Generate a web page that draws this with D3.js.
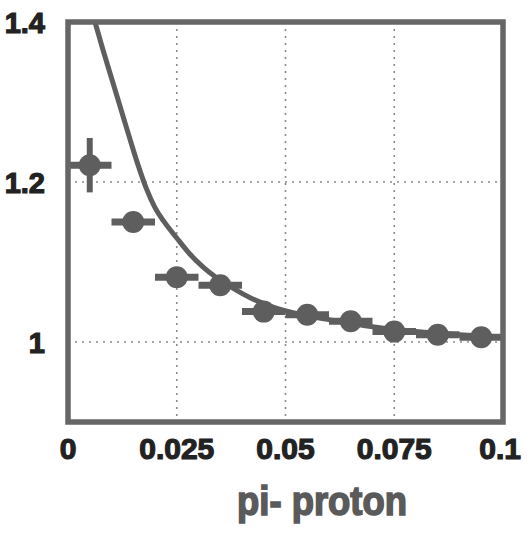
<!DOCTYPE html>
<html>
<head>
<meta charset="utf-8">
<script src="https://cdn.jsdelivr.net/npm/d3@7"></script>
<style>
  html, body { margin: 0; padding: 0; background: #fff; }
  svg { display: block; }
  .tick-label { font-family: "Liberation Sans", Arial, Helvetica, sans-serif; font-weight: bold; }
</style>
</head>
<body>
<svg id="chart" width="530" height="533"></svg>
<script>
// Measured ratio for pi- proton pairs, binned in q (GeV/c)
const binCenters = [0.005, 0.015, 0.025, 0.035, 0.045, 0.055, 0.065, 0.075, 0.085, 0.095];
const ratioValues = [1.221, 1.150, 1.081, 1.071, 1.038, 1.034, 1.026, 1.013, 1.009, 1.006];
const ratioErrors = [0.034, 0.010, 0.008, 0.008, 0.008, 0.008, 0.008, 0.012, 0.008, 0.008];
const binHalfWidth = 0.005;

// Theoretical correlation curve
const curveX = [0.0062, 0.008, 0.010, 0.012, 0.014, 0.016, 0.018, 0.020, 0.022, 0.025, 0.028,
                0.031, 0.034, 0.038, 0.042, 0.047, 0.053, 0.060, 0.070, 0.080, 0.090, 0.100];
const curveY = [1.400, 1.366, 1.330, 1.294, 1.258, 1.223, 1.192, 1.168, 1.151, 1.130, 1.110,
                1.094, 1.081, 1.067, 1.055, 1.044, 1.035, 1.028, 1.019, 1.013, 1.009, 1.006];

const xTicks = [0, 0.025, 0.05, 0.075, 0.1];
const xTickLabels = ["0", "0.025", "0.05", "0.075", "0.1"];
const yTicks = [1.0, 1.2, 1.4];
const yTickLabels = ["1", "1.2", "1.4"];
const xTitle = "pi- proton";

const svg = d3.select("#chart");
const plotLeft = 68, plotTop = 22, plotRight = 503, plotBottom = 422;

const x = d3.scaleLinear().domain([0, 0.1]).range([plotLeft, plotRight]);
const y = d3.scaleLinear().domain([0.9, 1.4]).range([plotBottom, plotTop]);

const ink = "#5e5e5e";

svg.append("defs").append("clipPath").attr("id", "plot-clip")
  .append("rect").attr("x", plotLeft).attr("y", plotTop)
  .attr("width", plotRight - plotLeft).attr("height", plotBottom - plotTop);

// Dotted grid lines at the inner ticks
const grid = svg.append("g").attr("stroke", "#8a8a8a").attr("stroke-width", 1.6)
  .attr("stroke-dasharray", "2,5");
grid.selectAll("line.vx").data(xTicks.filter(d => d > 0 && d < 0.1)).join("line")
  .attr("x1", d => x(d)).attr("x2", d => x(d))
  .attr("y1", plotTop).attr("y2", plotBottom);
grid.selectAll("line.hy").data(yTicks.filter(d => d < 1.4)).join("line")
  .attr("x1", plotLeft).attr("x2", plotRight)
  .attr("y1", d => y(d)).attr("y2", d => y(d));

// Model curve
const line = d3.line().x(d => x(d[0])).y(d => y(d[1])).curve(d3.curveMonotoneX);
svg.append("path")
  .datum(curveX.map((v, i) => [v, curveY[i]]))
  .attr("clip-path", "url(#plot-clip)")
  .attr("fill", "none").attr("stroke", ink).attr("stroke-width", 5)
  .attr("d", line);

// Data points with error bars
const pts = svg.append("g").attr("clip-path", "url(#plot-clip)");
const data = binCenters.map((c, i) => ({ c, v: ratioValues[i], e: ratioErrors[i] }));
pts.selectAll("line.xerr").data(data).join("line")
  .attr("x1", d => x(d.c - binHalfWidth)).attr("x2", d => x(d.c + binHalfWidth))
  .attr("y1", d => y(d.v)).attr("y2", d => y(d.v))
  .attr("stroke", ink).attr("stroke-width", 7);
pts.selectAll("line.yerr").data(data).join("line")
  .attr("x1", d => x(d.c)).attr("x2", d => x(d.c))
  .attr("y1", d => y(d.v - d.e)).attr("y2", d => y(d.v + d.e))
  .attr("stroke", ink).attr("stroke-width", 6);
pts.selectAll("circle").data(data).join("circle")
  .attr("cx", d => x(d.c)).attr("cy", d => y(d.v)).attr("r", 11)
  .attr("fill", ink);

// Frame
svg.append("rect")
  .attr("x", plotLeft).attr("y", plotTop)
  .attr("width", plotRight - plotLeft).attr("height", plotBottom - plotTop)
  .attr("fill", "none").attr("stroke", "#666").attr("stroke-width", 5.5);

// Axis labels
svg.append("g").selectAll("text").data(xTicks).join("text")
  .attr("class", "tick-label")
  .attr("x", d => x(d)).attr("y", 459)
  .attr("text-anchor", d => d === 0.1 ? "end" : "middle")
  .attr("dx", d => d === 0.1 ? 18 : 0)
  .attr("font-size", 30).attr("fill", "#222")
  .attr("stroke", "#222").attr("stroke-width", 1.2)
  .text((d, i) => xTickLabels[i]);

svg.append("g").selectAll("text").data(yTicks).join("text")
  .attr("class", "tick-label")
  .attr("x", 45).attr("y", d => y(d) + 11)
  .attr("text-anchor", "end")
  .attr("font-size", 29).attr("fill", "#222")
  .attr("stroke", "#222").attr("stroke-width", 1.2)
  .text((d, i) => yTickLabels[i]);

svg.append("text")
  .attr("class", "tick-label")
  .attr("x", 322).attr("y", 515)
  .attr("text-anchor", "middle")
  .attr("font-size", 40).attr("fill", "#5a5a5a")
  .attr("stroke", "#5a5a5a").attr("stroke-width", 1.6)
  .attr("textLength", 170).attr("lengthAdjust", "spacingAndGlyphs")
  .text(xTitle);
</script>
</body>
</html>
